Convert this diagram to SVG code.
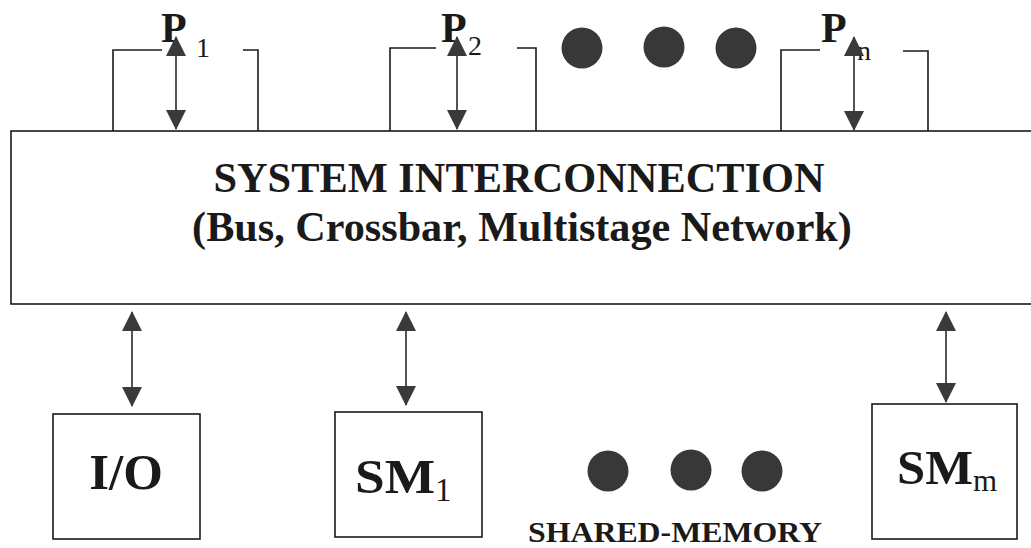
<svg xmlns="http://www.w3.org/2000/svg" width="1031" height="548" viewBox="0 0 1031 548">
<defs>
<marker id="ah" viewBox="0 0 20 20" refX="19" refY="10" markerWidth="20" markerHeight="20" markerUnits="userSpaceOnUse" orient="auto-start-reverse">
<path d="M0,0 L20,10 L0,20 Z" fill="#3a3a3a"/>
</marker>
</defs>
<style>
.box{fill:#fff;stroke:#1a1a1a;stroke-width:1.6}
.open{fill:none;stroke:#1a1a1a;stroke-width:1.6}
.conn{stroke:#2a2a2a;stroke-width:1.6;fill:none;marker-start:url(#ah);marker-end:url(#ah)}
.t{font-family:"Liberation Serif","Times New Roman",serif;fill:#1a1a1a}
.b{font-weight:bold}
.dot{fill:#383838}
</style>
<rect width="1031" height="548" fill="#fff"/>
<g id="interconnect">
<rect class="box" x="11" y="131" width="1040" height="173"/>
<text class="t b" x="519" y="192" font-size="42.4" text-anchor="middle">SYSTEM INTERCONNECTION</text>
<text class="t b" x="522" y="241" font-size="42.2" text-anchor="middle">(Bus, Crossbar, Multistage Network)</text>
</g>
<g id="p1">
<path class="open" d="M113,131 V50 H162 M243,50 H258 V131"/>
<text class="t b" x="161" y="42" font-size="42">P</text>
<text class="t" x="196" y="57" font-size="28">1</text>
</g>
<g id="p2">
<path class="open" d="M390,131 V48 H436 M517,48 H536 V131"/>
<text class="t b" x="441" y="42" font-size="42">P</text>
<text class="t" x="468" y="55" font-size="28">2</text>
</g>
<g id="pn">
<path class="open" d="M781,131 V50 H820 M903,51 H928 V131"/>
<text class="t b" x="821" y="42" font-size="42">P</text>
<text class="t" x="857" y="60" font-size="28">n</text>
</g>
<g id="dots-top">
<circle class="dot" cx="582" cy="48" r="20.5"/>
<circle class="dot" cx="664" cy="47" r="20.5"/>
<circle class="dot" cx="736" cy="48" r="20.5"/>
</g>
<g id="io">
<rect class="box" x="53" y="414" width="147" height="125"/>
<text class="t b" x="126" y="489" font-size="51" text-anchor="middle">I/O</text>
</g>
<g id="sm1">
<rect class="box" x="335" y="412" width="147" height="125"/>
<text class="t b" x="355" y="493" font-size="48" textLength="80" lengthAdjust="spacingAndGlyphs">SM</text>
<text class="t" x="435" y="501" font-size="33">1</text>
</g>
<g id="dots-bottom">
<circle class="dot" cx="608" cy="471" r="20.5"/>
<circle class="dot" cx="691" cy="470" r="20.5"/>
<circle class="dot" cx="762" cy="471" r="20.5"/>
<text class="t b" x="528" y="542" font-size="30" textLength="294" lengthAdjust="spacingAndGlyphs">SHARED-MEMORY</text>
</g>
<g id="smm">
<rect class="box" x="872" y="404" width="145" height="135"/>
<text class="t b" x="897" y="484" font-size="48" textLength="76" lengthAdjust="spacingAndGlyphs">SM</text>
<text class="t" x="973" y="491" font-size="31">m</text>
</g>
<g id="connectors">
<line class="conn" x1="176" y1="37" x2="176" y2="129"/>
<line class="conn" x1="457" y1="37" x2="457" y2="129"/>
<line class="conn" x1="854" y1="37" x2="854" y2="130"/>
<line class="conn" x1="132" y1="312" x2="132" y2="406"/>
<line class="conn" x1="406" y1="312" x2="406" y2="405"/>
<line class="conn" x1="946" y1="312" x2="946" y2="402"/>
</g>
</svg>
